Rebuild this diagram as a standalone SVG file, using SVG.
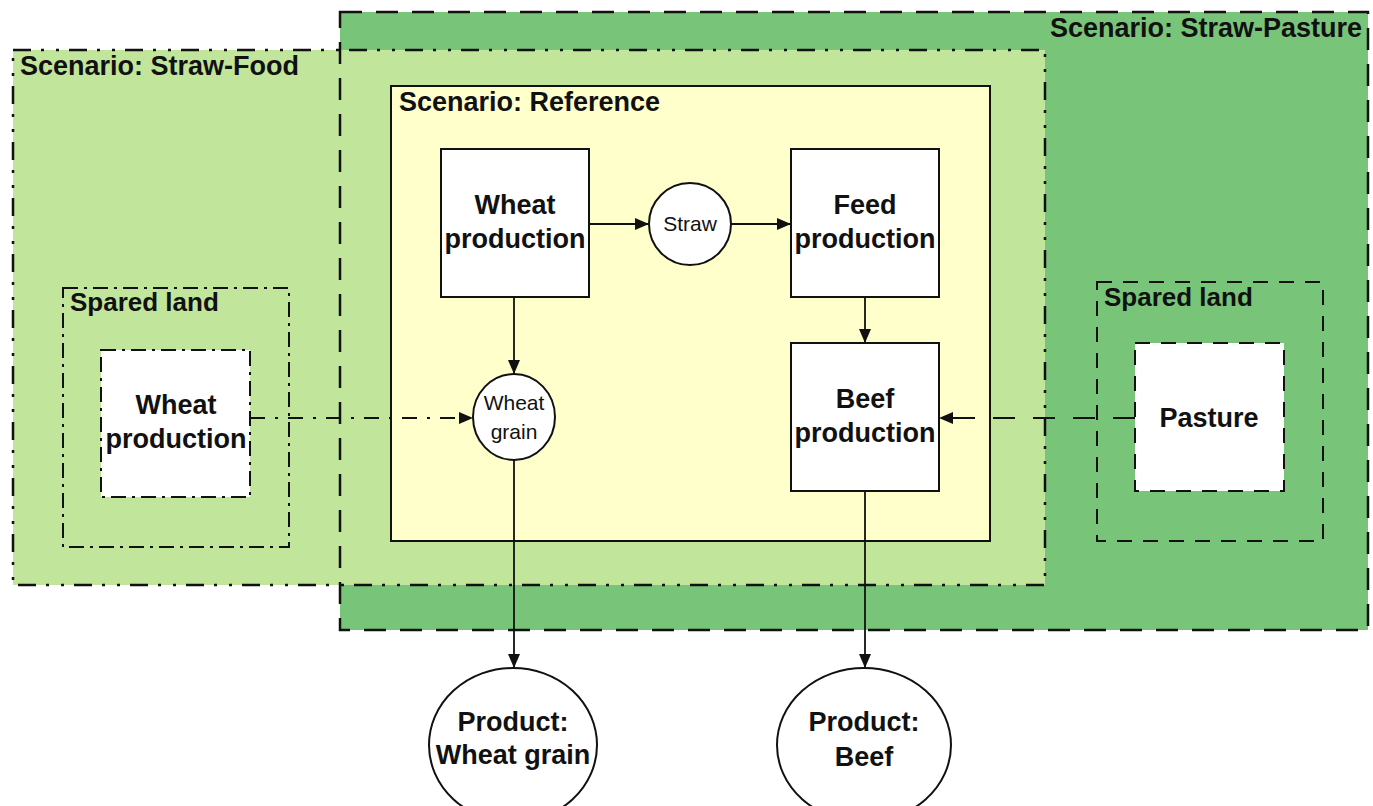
<svg xmlns="http://www.w3.org/2000/svg" width="1373" height="806" viewBox="0 0 1373 806">
  <defs>
    <style>
      .lbl { font-family: "Liberation Sans", Arial, sans-serif; font-weight: bold; fill: #111; }
      .scen { font-size: 27px; }
      .node { font-size: 27px; text-anchor: middle; }
      .small { font-family: "Liberation Sans", Arial, sans-serif; font-size: 21px; fill: #111; text-anchor: middle; }
      .box { fill: #ffffff; stroke: #111; stroke-width: 2; }
      .edge { stroke: #111; stroke-width: 1.8; fill: none; }
      .dash { stroke-dasharray: 22 14; }
      .dashdotdot { stroke-dasharray: 18 10 3 12 3 10; }
      .sdash { stroke-dasharray: 15 11; }
      .sdashdot { stroke-dasharray: 15 6 3 6; }
    </style>
    <marker id="arrow" viewBox="0 0 14 12" refX="14" refY="6" markerWidth="14" markerHeight="12" markerUnits="userSpaceOnUse" orient="auto">
      <path d="M0,0 L14,6 L0,12 Z" fill="#111"/>
    </marker>
  </defs>

  <!-- scenario fills -->
  <rect id="straw-pasture-fill" x="340" y="12" width="1028" height="618" fill="#78c57a"/>
  <rect id="straw-food-fill" x="13" y="50" width="1032" height="535" fill="#c1e59b"/>

  <!-- scenario borders -->
  <g id="scenario-straw-pasture">
    <rect x="340" y="12" width="1028" height="618" fill="none" stroke="#111" stroke-width="2.5" class="dash"/>
    <text class="lbl scen" x="1362" y="37" text-anchor="end">Scenario: Straw-Pasture</text>
  </g>
  <g id="scenario-straw-food">
    <rect x="13" y="50" width="1032" height="535" fill="none" stroke="#111" stroke-width="2.5" class="dashdotdot"/>
    <text class="lbl scen" x="20" y="75">Scenario: Straw-Food</text>
  </g>
  <g id="scenario-reference">
    <rect x="391" y="86" width="599" height="455" fill="#ffffcc" stroke="#111" stroke-width="2"/>
    <text class="lbl scen" x="399" y="111">Scenario: Reference</text>
  </g>

  <!-- spared land, left -->
  <g id="spared-land-left">
    <rect x="63" y="288" width="226" height="259" fill="none" stroke="#111" stroke-width="2" class="sdashdot"/>
    <text class="lbl" font-size="26" x="70" y="311">Spared land</text>
  </g>
  <g id="spared-wheat-production">
    <rect x="101" y="350" width="149" height="147" fill="#ffffff" stroke="#111" stroke-width="2" class="sdashdot"/>
    <text class="lbl node" x="176" y="414">Wheat</text>
    <text class="lbl node" x="176" y="448">production</text>
  </g>

  <!-- spared land, right -->
  <g id="spared-land-right">
    <rect x="1097" y="282" width="226" height="259" fill="none" stroke="#111" stroke-width="2" class="sdash"/>
    <text class="lbl" font-size="26" x="1104" y="306">Spared land</text>
  </g>
  <g id="pasture">
    <rect x="1135" y="343" width="149" height="148" fill="#ffffff" stroke="#111" stroke-width="2" class="sdash"/>
    <text class="lbl node" x="1209" y="427">Pasture</text>
  </g>

  <!-- connectors -->
  <g id="connectors">
    <line class="edge" x1="589" y1="224" x2="649" y2="224" marker-end="url(#arrow)"/>
    <line class="edge" x1="731" y1="224" x2="791" y2="224" marker-end="url(#arrow)"/>
    <line class="edge" x1="514" y1="297" x2="514" y2="374" marker-end="url(#arrow)"/>
    <line class="edge" x1="865" y1="297" x2="865" y2="343" marker-end="url(#arrow)"/>
    <line class="edge" x1="514" y1="460" x2="514" y2="668" marker-end="url(#arrow)"/>
    <line class="edge" x1="865" y1="491" x2="865" y2="668" marker-end="url(#arrow)"/>
    <line class="edge" x1="250" y1="418" x2="473" y2="418" stroke-dasharray="15 10 3 10" marker-end="url(#arrow)"/>
    <line class="edge" x1="1135" y1="418" x2="939" y2="418" stroke-dasharray="22 18" marker-end="url(#arrow)"/>
  </g>

  <!-- reference nodes -->
  <g id="wheat-production">
    <rect class="box" x="441" y="149" width="148" height="148"/>
    <text class="lbl node" x="515" y="214">Wheat</text>
    <text class="lbl node" x="515" y="248">production</text>
  </g>
  <g id="straw">
    <ellipse class="box" cx="690" cy="224" rx="41" ry="41"/>
    <text class="small" x="690" y="231">Straw</text>
  </g>
  <g id="feed-production">
    <rect class="box" x="791" y="149" width="148" height="148"/>
    <text class="lbl node" x="865" y="214">Feed</text>
    <text class="lbl node" x="865" y="248">production</text>
  </g>
  <g id="wheat-grain">
    <ellipse class="box" cx="514" cy="417" rx="41" ry="43"/>
    <text class="small" x="514" y="410" font-size="20">Wheat</text>
    <text class="small" x="514" y="439" font-size="20">grain</text>
  </g>
  <g id="beef-production">
    <rect class="box" x="791" y="343" width="148" height="148"/>
    <text class="lbl node" x="865" y="408">Beef</text>
    <text class="lbl node" x="865" y="442">production</text>
  </g>

  <!-- products -->
  <g id="product-wheat-grain">
    <ellipse class="box" cx="513" cy="745" rx="84" ry="77"/>
    <text class="lbl node" x="513" y="731">Product:</text>
    <text class="lbl node" x="513" y="764">Wheat grain</text>
  </g>
  <g id="product-beef">
    <ellipse class="box" cx="864" cy="745" rx="87" ry="77"/>
    <text class="lbl node" x="864" y="731">Product:</text>
    <text class="lbl node" x="864" y="766">Beef</text>
  </g>
</svg>
